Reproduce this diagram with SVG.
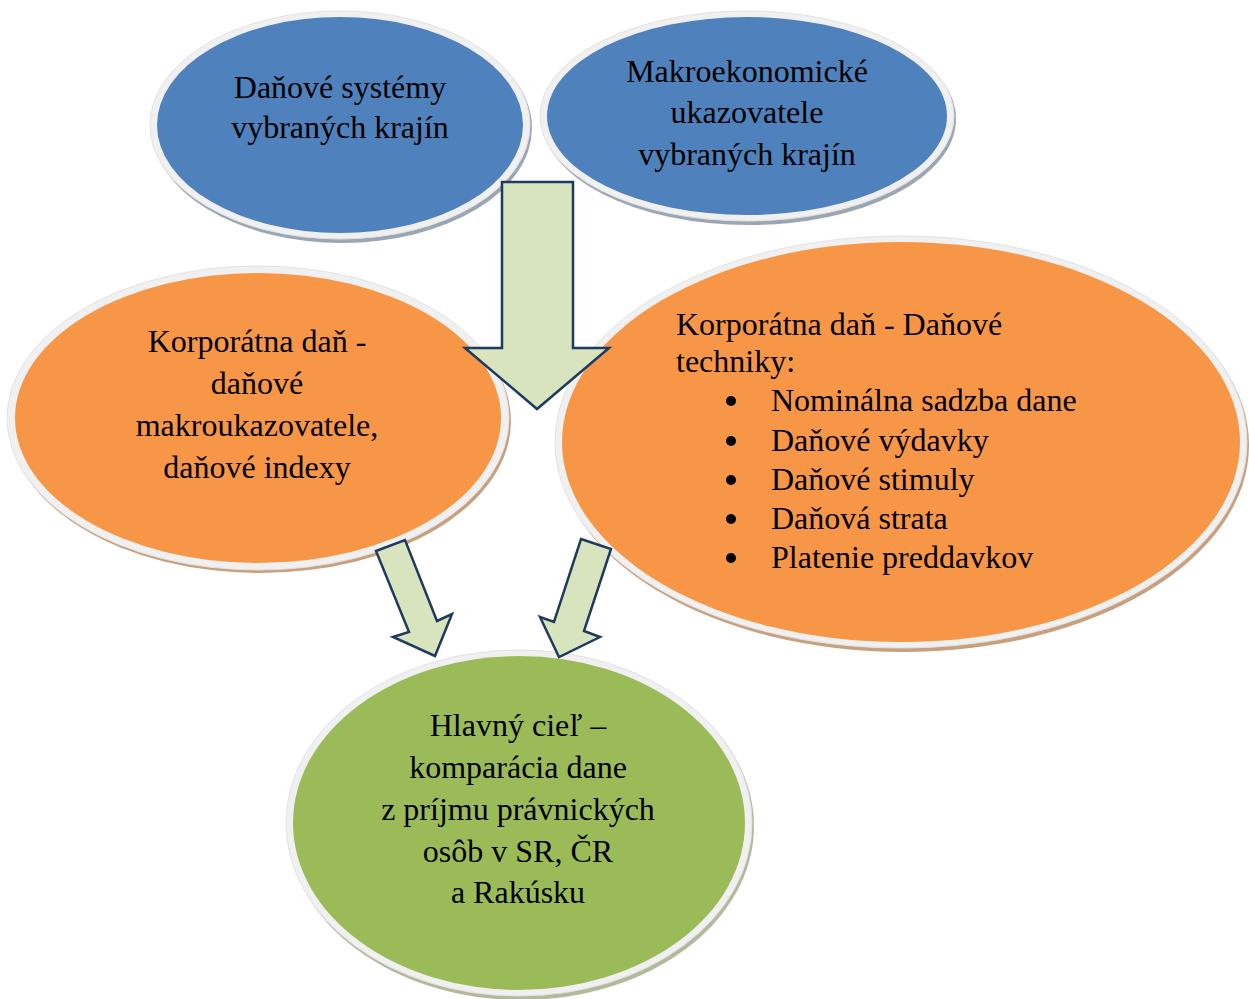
<svg xmlns="http://www.w3.org/2000/svg" width="1249" height="999" viewBox="0 0 1249 999">
<style>
.t{font-family:"Liberation Serif","Times New Roman",serif;font-size:32px;fill:#000}
.c{text-anchor:middle}
.ring{fill:#f0f0f0;stroke:#e2e2e2;stroke-width:1}
.blue{fill:#4f81bd}
.orange{fill:#f79646}
.green{fill:#9bbb59}
.shb{fill:#9aa6b4}
.sho{fill:#c9a07e}
.shg{fill:#b3ba9c}
.arr{fill:#d7e4bd;stroke:#1f3a60;stroke-width:2.5;stroke-linejoin:miter}
</style>
<rect width="1249" height="999" fill="#fff"/>
<g id="node-danove-systemy">
<ellipse class="shb" cx="342" cy="128" rx="190" ry="115"/>
<ellipse class="ring" cx="340" cy="125" rx="190" ry="114"/>
<ellipse class="blue" cx="340" cy="125" rx="183" ry="108"/>
<text class="t c" x="340" y="98">Daňové systémy</text>
<text class="t c" x="340" y="138">vybraných krajín</text>
</g>
<g id="node-makro">
<ellipse class="shb" cx="749" cy="119" rx="207" ry="106"/>
<ellipse class="ring" cx="747" cy="116" rx="207" ry="105"/>
<ellipse class="blue" cx="747" cy="116" rx="200" ry="99"/>
<text class="t c" x="747" y="82">Makroekonomické</text>
<text class="t c" x="747" y="123">ukazovatele</text>
<text class="t c" x="747" y="165">vybraných krajín</text>
</g>
<g id="node-korp-makro">
<ellipse class="sho" cx="260" cy="421" rx="251" ry="152"/>
<ellipse class="ring" cx="258" cy="418" rx="251" ry="152"/>
<ellipse class="orange" cx="258" cy="418" rx="243" ry="145"/>
<text class="t c" x="257" y="352">Korporátna daň -</text>
<text class="t c" x="257" y="394">daňové</text>
<text class="t c" x="257" y="436">makroukazovatele,</text>
<text class="t c" x="257" y="478">daňové indexy</text>
</g>
<g id="node-korp-techniky">
<ellipse class="sho" cx="903" cy="445" rx="346" ry="207"/>
<ellipse class="ring" cx="901" cy="442" rx="346" ry="206"/>
<ellipse class="orange" cx="901" cy="442" rx="339" ry="200"/>
<text class="t" x="676" y="335">Korporátna daň - Daňové</text>
<text class="t" x="676" y="372">techniky:</text>
<g fill="#000">
<circle cx="731" cy="401" r="5"/>
<circle cx="731" cy="441" r="5"/>
<circle cx="731" cy="480" r="5"/>
<circle cx="731" cy="519" r="5"/>
<circle cx="731" cy="558" r="5"/>
</g>
<text class="t" x="771" y="411">Nominálna sadzba dane</text>
<text class="t" x="771" y="451">Daňové výdavky</text>
<text class="t" x="771" y="490">Daňové stimuly</text>
<text class="t" x="771" y="529">Daňová strata</text>
<text class="t" x="771" y="568">Platenie preddavkov</text>
</g>
<g id="node-hlavny-ciel">
<ellipse class="shg" cx="521" cy="826" rx="233" ry="174"/>
<ellipse class="ring" cx="519" cy="823" rx="233" ry="173"/>
<ellipse class="green" cx="519" cy="823" rx="226" ry="167"/>
<text class="t c" x="518" y="736">Hlavný cieľ –</text>
<text class="t c" x="518" y="778">komparácia dane</text>
<text class="t c" x="518" y="820">z príjmu právnických</text>
<text class="t c" x="518" y="862">osôb v SR, ČR</text>
<text class="t c" x="518" y="903">a Rakúsku</text>
</g>
<g id="connectors">
<polygon class="arr" points="502,182 573,182 573,348 609,348 537,409 465,348 502,348"/>
<polygon class="arr" points="376,551 405,540 437,621 452,614 435,656 393,637 409,632"/>
<polygon class="arr" points="581,539 611,549 584,631 600,637 559,657 540,617 554,622"/>
</g>
</svg>
